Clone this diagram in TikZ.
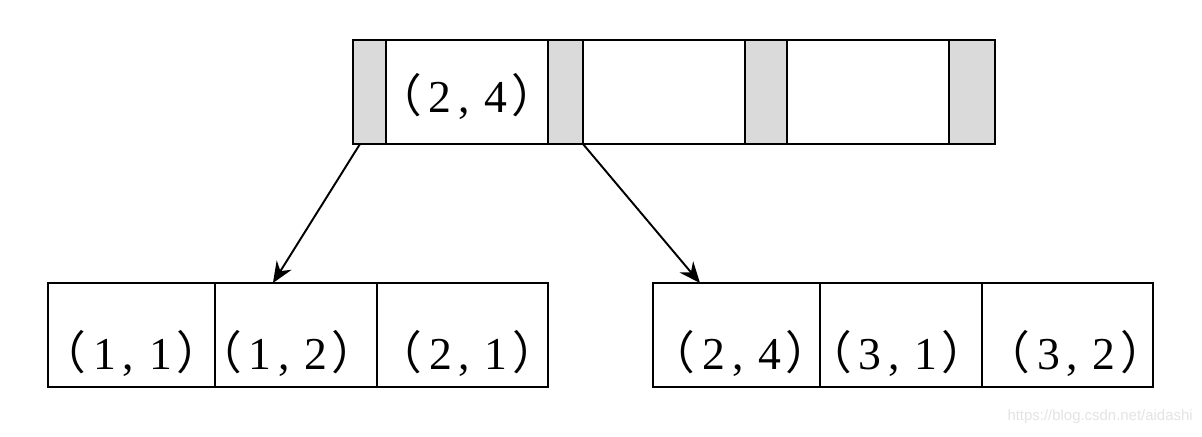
\documentclass[tikz,border=0pt]{standalone}
\usepackage{fontspec}
\setmainfont{Liberation Serif}
\newfontfamily\cjk{Noto Sans CJK SC}
\newfontfamily\wmfont{Liberation Sans}
\usepackage{tikz}
\usepackage{xcolor}
\usetikzlibrary{arrows.meta, positioning}
\definecolor{ptrgray}{RGB}{218,218,218}
\tikzstyle{cell} = [rectangle, draw=black, line width=1.1pt, outer sep=0pt, inner sep=0pt, minimum height=2.08cm, font=\fontsize{26}{26}\selectfont, text depth=0cm]
\tikzstyle{ptr} = [cell, fill=ptrgray]
\tikzstyle{topkey} = [cell, minimum width=3.24cm, text height=0.84cm]
\tikzstyle{leafkey} = [cell, text height=1.4cm]
\tikzstyle{arrow} = [line width=1.1pt, -{Stealth[length=12pt, width=10pt, inset=4pt]}]
% optional first argument moves the text sideways (by half its value)
\newcommand{\pair}[3][0pt]{\hspace*{#1}\hspace*{-0.5em}{\cjk （}\hspace{0.15em}#2\hspace{0.15em},\hspace{0.32em}#3\hspace{0.1em}{\cjk ）}\hspace*{-0.5em}}

\begin{document}
\begin{tikzpicture}[x=0.02cm, y=-0.02cm]
  \useasboundingbox (0,0) rectangle (1202,436);

  % Root node: pointers and keys
  \node (p0) [ptr, minimum width=0.66cm, anchor=north west] at (353,40) {};
  \node (k1) [topkey, right=0pt of p0] {\pair{2}{4}};
  \node (p1) [ptr, minimum width=0.70cm, right=0pt of k1] {};
  \node (k2) [topkey, right=0pt of p1] {};
  \node (p2) [ptr, minimum width=0.84cm, right=0pt of k2] {};
  \node (k3) [topkey, right=0pt of p2] {};
  \node (p3) [ptr, minimum width=0.92cm, right=0pt of k3] {};

  % Left leaf
  \node (l1) [leafkey, minimum width=3.34cm, anchor=north west] at (48,283) {\pair{1}{1}};
  \node (l2) [leafkey, minimum width=3.24cm, right=0pt of l1] {\pair[-0.36cm]{1}{2}};
  \node (l3) [leafkey, minimum width=3.42cm, right=0pt of l2] {\pair[0.2cm]{2}{1}};

  % Right leaf
  \node (r1) [leafkey, minimum width=3.34cm, anchor=north west] at (653,283) {\pair[0.16cm]{2}{4}};
  \node (r2) [leafkey, minimum width=3.24cm, right=0pt of r1] {\pair[-0.16cm]{3}{1}};
  \node (r3) [leafkey, minimum width=3.42cm, right=0pt of r2] {\pair[0.32cm]{3}{2}};

  % Arrows from pointers to leaves
  \draw [arrow] ([xshift=0.14cm]p0.south west) -- ([xshift=1.16cm]l2.north west);
  \draw [arrow] (p1.south east) -- ([xshift=0.94cm]r1.north west);

  % Watermark
  \node (wm) [anchor=east, text=gray!22, font=\wmfont\fontsize{8.5}{8.5}\selectfont, inner sep=0pt] at (1193,417) {https://blog.csdn.net/aidashi};
\end{tikzpicture}
\end{document}
